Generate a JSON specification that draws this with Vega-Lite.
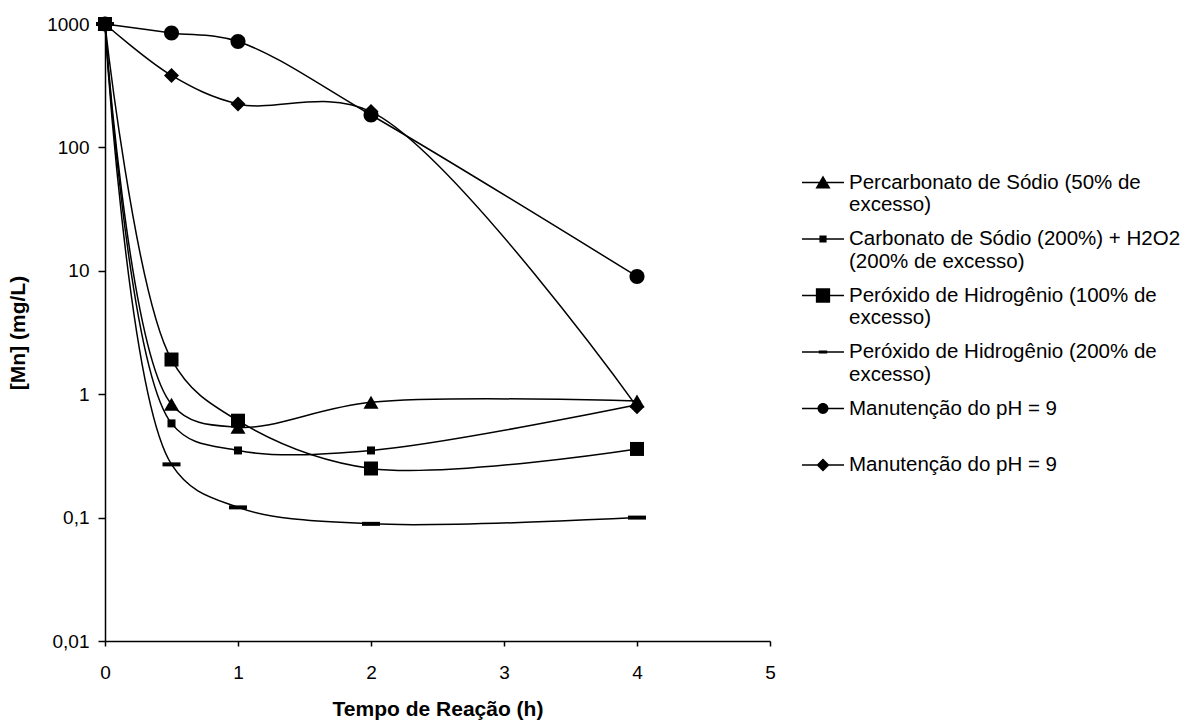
{
  "$schema": "https://vega.github.io/schema/vega-lite/v6.json",
  "width": 665,
  "height": 617,
  "autosize": "none",
  "padding": {"left": 105, "top": 24, "right": 415, "bottom": 79},
  "background": "white",
  "config": {"view": {"stroke": null}, "font": "Liberation Sans"},
  "data": {
    "values": [
      {"serie": "Percarbonato de Sódio (50% de excesso)", "t": 0, "mn": 1000},
      {"serie": "Percarbonato de Sódio (50% de excesso)", "t": 0.5, "mn": 0.83},
      {"serie": "Percarbonato de Sódio (50% de excesso)", "t": 1, "mn": 0.54},
      {"serie": "Percarbonato de Sódio (50% de excesso)", "t": 2, "mn": 0.86},
      {"serie": "Percarbonato de Sódio (50% de excesso)", "t": 4, "mn": 0.88},
      {"serie": "Carbonato de Sódio (200%) + H2O2 (200% de excesso)", "t": 0, "mn": 1000},
      {"serie": "Carbonato de Sódio (200%) + H2O2 (200% de excesso)", "t": 0.5, "mn": 0.58},
      {"serie": "Carbonato de Sódio (200%) + H2O2 (200% de excesso)", "t": 1, "mn": 0.35},
      {"serie": "Carbonato de Sódio (200%) + H2O2 (200% de excesso)", "t": 2, "mn": 0.35},
      {"serie": "Carbonato de Sódio (200%) + H2O2 (200% de excesso)", "t": 4, "mn": 0.82},
      {"serie": "Peróxido de Hidrogênio (100% de excesso)", "t": 0, "mn": 1000},
      {"serie": "Peróxido de Hidrogênio (100% de excesso)", "t": 0.5, "mn": 1.91},
      {"serie": "Peróxido de Hidrogênio (100% de excesso)", "t": 1, "mn": 0.61},
      {"serie": "Peróxido de Hidrogênio (100% de excesso)", "t": 2, "mn": 0.25},
      {"serie": "Peróxido de Hidrogênio (100% de excesso)", "t": 4, "mn": 0.36},
      {"serie": "Peróxido de Hidrogênio (200% de excesso)", "t": 0, "mn": 1000},
      {"serie": "Peróxido de Hidrogênio (200% de excesso)", "t": 0.5, "mn": 0.27},
      {"serie": "Peróxido de Hidrogênio (200% de excesso)", "t": 1, "mn": 0.121},
      {"serie": "Peróxido de Hidrogênio (200% de excesso)", "t": 2, "mn": 0.089},
      {"serie": "Peróxido de Hidrogênio (200% de excesso)", "t": 4, "mn": 0.1},
      {"serie": "Manutenção do pH = 9", "t": 0, "mn": 1000},
      {"serie": "Manutenção do pH = 9", "t": 0.5, "mn": 847},
      {"serie": "Manutenção do pH = 9", "t": 1, "mn": 721},
      {"serie": "Manutenção do pH = 9", "t": 2, "mn": 183},
      {"serie": "Manutenção do pH = 9", "t": 4, "mn": 9.0},
      {"serie": "Manutenção do pH = 9 ", "t": 0, "mn": 1000},
      {"serie": "Manutenção do pH = 9 ", "t": 0.5, "mn": 383},
      {"serie": "Manutenção do pH = 9 ", "t": 1, "mn": 225},
      {"serie": "Manutenção do pH = 9 ", "t": 2, "mn": 195},
      {"serie": "Manutenção do pH = 9 ", "t": 4, "mn": 0.79}
    ]
  },
  "encoding": {
    "x": {
      "field": "t", "type": "quantitative",
      "scale": {"domain": [0, 5], "nice": false, "zero": false},
      "axis": {
        "title": "Tempo de Reação (h)", "values": [0, 1, 2, 3, 4, 5], "grid": false,
        "labelFontSize": 19, "labelColor": "black", "labelFont": "Liberation Sans",
        "titleFontSize": 21, "titleFontWeight": "bold", "titleColor": "black", "titleFont": "Liberation Sans",
        "domainColor": "black", "domainWidth": 1.5, "tickColor": "black", "tickWidth": 1.5, "tickSize": 5,
        "labelPadding": 17, "titlePadding": 16, "labelFlush": false
      }
    },
    "y": {
      "field": "mn", "type": "quantitative",
      "scale": {"type": "log", "domain": [0.01, 1000], "nice": false},
      "axis": {
        "title": "[Mn] (mg/L)", "values": [0.01, 0.1, 1, 10, 100, 1000], "grid": false,
        "labelExpr": "replace(toString(datum.value), '.', ',')",
        "labelFontSize": 19, "labelColor": "black", "labelFont": "Liberation Sans",
        "titleFontSize": 21, "titleFontWeight": "bold", "titleColor": "black", "titleFont": "Liberation Sans",
        "domainColor": "black", "domainWidth": 1.5, "tickColor": "black", "tickWidth": 1.5, "tickSize": 7,
        "labelPadding": 9, "titlePadding": 18, "labelFlush": false
      }
    }
  },
  "layer": [
    {
      "mark": {"type": "line", "interpolate": "catmull-rom", "color": "black", "strokeWidth": 1.5},
      "encoding": {"detail": {"field": "serie", "type": "nominal"}}
    },
    {
      "mark": {"type": "point", "filled": true, "color": "black", "opacity": 1, "strokeWidth": 0, "size": 400},
      "encoding": {
        "shape": {
          "field": "serie", "type": "nominal",
          "scale": {
            "domain": ["Percarbonato de Sódio (50% de excesso)", "Carbonato de Sódio (200%) + H2O2 (200% de excesso)", "Peróxido de Hidrogênio (100% de excesso)", "Peróxido de Hidrogênio (200% de excesso)", "Manutenção do pH = 9", "Manutenção do pH = 9 "],
            "range": ["M0,-0.65L0.75,0.65L-0.75,0.65Z", "M-0.4,-0.4H0.4V0.4H-0.4Z", "M-0.7,-0.7H0.7V0.7H-0.7Z", "M-0.9,-0.2H0.9V0.2H-0.9Z", "M0.75,0A0.75,0.75,0,1,1,-0.75,0A0.75,0.75,0,1,1,0.75,0Z", "M0,-0.75L0.75,0L0,0.75L-0.75,0Z"]
          },
          "legend": null
        }
      }
    },
    {
      "transform": [{"filter": "datum.t < 0"}],
      "mark": {"type": "point", "filled": true, "color": "black", "opacity": 1, "strokeWidth": 0, "size": 1764},
      "encoding": {
        "shape": {
          "field": "serie", "type": "nominal",
          "scale": {
            "domain": ["Percarbonato de Sódio (50% de excesso)", "Carbonato de Sódio (200%) + H2O2 (200% de excesso)", "Peróxido de Hidrogênio (100% de excesso)", "Peróxido de Hidrogênio (200% de excesso)", "Manutenção do pH = 9", "Manutenção do pH = 9 "],
            "range": [
              "M-1,-0.036H1V0.036H-1ZM0,-0.33L0.36,0.29L-0.36,0.29Z",
              "M-1,-0.036H1V0.036H-1ZM-0.17,-0.17H0.17V0.17H-0.17Z",
              "M-1,-0.036H1V0.036H-1ZM-0.34,-0.34H0.34V0.34H-0.34Z",
              "M-1,-0.036H1V0.036H-1ZM-0.2,-0.075H0.2V0.075H-0.2Z",
              "M-1,-0.036H1V0.036H-1ZM0.26,0A0.26,0.26,0,1,1,-0.26,0A0.26,0.26,0,1,1,0.26,0Z",
              "M-1,-0.036H1V0.036H-1ZM0,-0.31L0.31,0L0,0.31L-0.31,0Z"
            ]
          },
          "legend": {
            "title": null, "orient": "none", "legendX": 696, "legendY": 136.5, "padding": 0,
            "symbolSize": 1764, "symbolFillColor": "black",
            "labelFontSize": 20.5, "labelFont": "Liberation Sans", "labelColor": "black", "labelLimit": 400,
            "labelOffset": 4, "labelBaseline": "middle", "labelLineHeight": 22, "rowPadding": 1.5, "gridAlign": "all",
            "labelExpr": "[['Percarbonato de Sódio (50% de', 'excesso)'], ['Carbonato de Sódio (200%) + H2O2', '(200% de excesso)'], ['Peróxido de Hidrogênio (100% de', 'excesso)'], ['Peróxido de Hidrogênio (200% de', 'excesso)'], 'Manutenção do pH = 9', 'Manutenção do pH = 9'][indexof(['Percarbonato de Sódio (50% de excesso)', 'Carbonato de Sódio (200%) + H2O2 (200% de excesso)', 'Peróxido de Hidrogênio (100% de excesso)', 'Peróxido de Hidrogênio (200% de excesso)', 'Manutenção do pH = 9', 'Manutenção do pH = 9 '], datum.value)]"
          }
        }
      }
    }
  ],
  "resolve": {"scale": {"shape": "independent"}, "legend": {"shape": "independent"}}
}
